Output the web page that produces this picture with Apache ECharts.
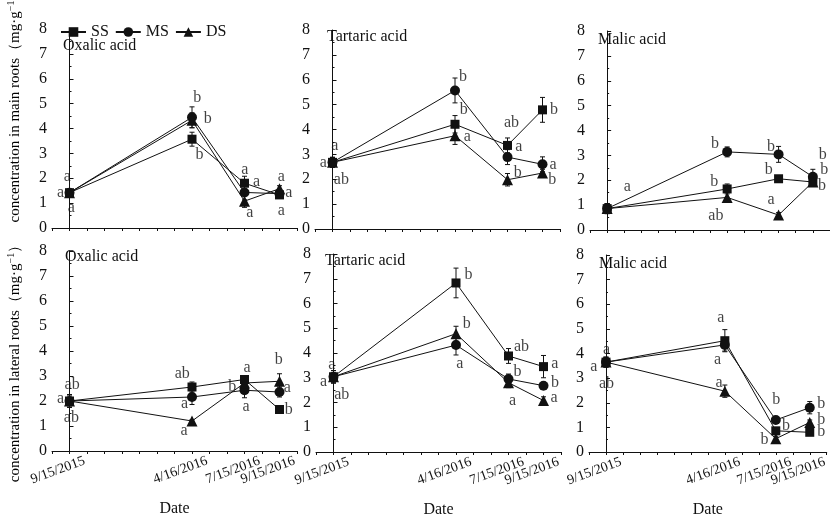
<!DOCTYPE html>
<html>
<head>
<meta charset="utf-8">
<script src="https://cdn.jsdelivr.net/npm/echarts@6/dist/echarts.min.js"></script>
<style>
html,body{margin:0;padding:0;background:#fff;}
#chart{width:830px;height:519px;}
</style>
</head>
<body>
<div id="chart"></div>
<script>
// ---------- data ----------
const dates = ['9/15/2015', '4/16/2016', '7/15/2016', '9/15/2016'];
const monthOffsets = [0, 7, 10, 12];           // months after 9/15/2015
const treatments = ['SS', 'MS', 'DS'];
const panelTitles = ['Oxalic acid', 'Tartaric acid', 'Malic acid', 'Oxalic acid', 'Tartaric acid', 'Malic acid'];
const yTitleMain = 'concentration in main roots（mg·g';
const yTitleLateral = 'concentration in lateral roots（mg·g';
const yTicks = [0, 1, 2, 3, 4, 5, 6, 7, 8];

// main roots – oxalic
const oxMainSS = [1.42, 3.57, 1.80, 1.33];
const oxMainMS = [1.42, 4.45, 1.43, 1.38];
const oxMainDS = [1.42, 4.33, 1.08, 1.58];
const oxMainSSerr = [0.10, 0.28, 0.28, 0.12];
const oxMainMSerr = [0.10, 0.42, 0.30, 0.15];
const oxMainDSerr = [0.10, 0.30, 0.25, 0.12];
// main roots – tartaric
const taMainSS = [2.68, 4.21, 3.36, 4.79];
const taMainMS = [2.68, 5.57, 2.89, 2.60];
const taMainDS = [2.68, 3.75, 1.98, 2.25];
const taMainSSerr = [0.20, 0.35, 0.30, 0.50];
const taMainMSerr = [0.20, 0.50, 0.30, 0.30];
const taMainDSerr = [0.20, 0.35, 0.25, 0.15];
// main roots – malic
const maMainSS = [0.86, 1.65, 2.06, 1.93];
const maMainMS = [0.86, 3.14, 3.04, 2.14];
const maMainDS = [0.86, 1.31, 0.60, 1.93];
const maMainSSerr = [0.20, 0.20, 0.10, 0.15];
const maMainMSerr = [0.20, 0.20, 0.32, 0.30];
const maMainDSerr = [0.20, 0.20, 0.10, 0.15];
// lateral roots – oxalic
const oxLatSS = [2.00, 2.56, 2.86, 1.66];
const oxLatMS = [2.00, 2.16, 2.43, 2.36];
const oxLatDS = [2.00, 1.20, 2.72, 2.79];
const oxLatSSerr = [0.25, 0.20, 0.15, 0.15];
const oxLatMSerr = [0.25, 0.30, 0.30, 0.20];
const oxLatDSerr = [0.25, 0.05, 0.20, 0.30];
// lateral roots – tartaric
const taLatSS = [3.04, 6.83, 3.88, 3.45];
const taLatMS = [3.04, 4.32, 2.95, 2.68];
const taLatDS = [3.04, 4.78, 2.80, 2.08];
const taLatSSerr = [0.25, 0.60, 0.30, 0.45];
const taLatMSerr = [0.25, 0.40, 0.20, 0.05];
const taLatDSerr = [0.25, 0.30, 0.20, 0.15];
// lateral roots – malic
const maLatSS = [3.65, 4.52, 0.86, 0.80];
const maLatMS = [3.65, 4.35, 1.30, 1.80];
const maLatDS = [3.65, 2.47, 0.54, 1.20];
const maLatSSerr = [0.20, 0.45, 0.10, 0.10];
const maLatMSerr = [0.20, 0.25, 0.10, 0.25];
const maLatDSerr = [0.20, 0.25, 0.10, 0.10];

// significance letters: [month, value, letter]
const lettersOxMain = [[-0.13,2.07,'a'],[-0.51,1.40,'a'],[0.11,0.80,'a'],[7.3,5.22,'b'],[7.9,4.38,'b'],[7.43,2.94,'b'],[10.02,2.34,'a'],[10.69,1.87,'a'],[10.3,0.63,'a'],[12.11,2.07,'a'],[12.53,1.40,'a'],[12.11,0.71,'a']];
const lettersTaMain = [[0.13,3.35,'a'],[-0.53,2.67,'a'],[0.51,1.98,'ab'],[7.45,6.13,'b'],[7.5,4.79,'b'],[7.7,3.69,'a'],[10.23,4.26,'ab'],[10.65,3.32,'a'],[10.59,2.27,'b'],[12.65,4.79,'b'],[12.61,2.58,'a'],[12.55,1.98,'b']];
const lettersMaMain = [[1.18,1.74,'a'],[6.29,3.45,'b'],[6.25,1.94,'b'],[6.34,0.56,'ab'],[9.56,3.35,'b'],[9.42,2.41,'b'],[9.56,1.23,'a'],[12.57,3.01,'b'],[12.67,2.41,'b'],[12.53,1.77,'b']];
const lettersOxLat = [[0.15,2.66,'ab'],[-0.51,2.10,'a'],[0.11,1.34,'ab'],[6.44,3.10,'ab'],[6.57,1.87,'a'],[6.55,0.80,'a'],[10.15,3.34,'a'],[9.3,2.57,'b'],[10.09,1.76,'a'],[11.96,3.64,'b'],[12.44,2.53,'a'],[12.53,1.63,'b']];
const lettersTaLat = [[-0.1,3.52,'a'],[-0.57,2.84,'a'],[0.47,2.31,'ab'],[7.71,7.16,'b'],[7.62,5.19,'b'],[7.22,3.57,'a'],[10.74,4.24,'ab'],[10.51,3.25,'b'],[10.23,2.07,'a'],[12.65,3.55,'a'],[12.65,2.81,'b'],[12.61,2.18,'a']];
const lettersMaLat = [[0.03,4.15,'a'],[-0.71,3.48,'a'],[0.03,2.77,'ab'],[6.76,5.45,'a'],[6.57,3.75,'a'],[6.66,2.80,'a'],[10.03,2.14,'b'],[10.6,1.07,'b'],[9.33,0.49,'b'],[12.67,1.97,'b'],[12.67,1.30,'b'],[12.67,0.83,'b']];

// ---------- build ----------
const FONT = '"Liberation Serif", "Times New Roman", serif';
const INK = '#111111';
const panels = [
  {vals:[oxMainSS,oxMainMS,oxMainDS], errs:[oxMainSSerr,oxMainMSerr,oxMainDSerr], letters:lettersOxMain},
  {vals:[taMainSS,taMainMS,taMainDS], errs:[taMainSSerr,taMainMSerr,taMainDSerr], letters:lettersTaMain},
  {vals:[maMainSS,maMainMS,maMainDS], errs:[maMainSSerr,maMainMSerr,maMainDSerr], letters:lettersMaMain},
  {vals:[oxLatSS,oxLatMS,oxLatDS], errs:[oxLatSSerr,oxLatMSerr,oxLatDSerr], letters:lettersOxLat},
  {vals:[taLatSS,taLatMS,taLatDS], errs:[taLatSSerr,taLatMSerr,taLatDSerr], letters:lettersTaLat},
  {vals:[maLatSS,maLatMS,maLatDS], errs:[maLatSSerr,maLatMSerr,maLatDSerr], letters:lettersMaLat}
];
const gridBoxes = [
  {left:52, top:29, width:245, height:199},
  {left:315, top:30, width:245, height:199},
  {left:590, top:31, width:245, height:199},
  {left:52, top:251, width:245, height:200},
  {left:316, top:254, width:245, height:199},
  {left:589, top:255, width:245, height:199}
];
const titlePos = [[63,38],[327,29],[598,32],[65,249],[325,253],[599,256]];
const symbols = ['rect', 'circle', 'triangle'];
const symbolSizes = [9, 10, 11];

const grid = [], xAxis = [], yAxis = [], lineSeries = [], otherSeries = [], title = [];
panels.forEach((p, k) => {
  const bottomRow = k >= 3;
  grid.push(Object.assign({containLabel:false}, gridBoxes[k]));
  title.push({text: panelTitles[k], left: titlePos[k][0], top: titlePos[k][1], padding: 0,
    textStyle:{fontFamily: FONT, fontSize: 16, fontWeight:'normal', color: INK}});
  xAxis.push({
    type:'value', gridIndex:k, min:-1, max:13, interval:1,
    splitLine:{show:false},
    axisLine:{lineStyle:{color:INK, width:1}},
    axisTick:{show:true, inside:false, length:3, lineStyle:{color:INK}},
    axisLabel:{
      show: bottomRow, rotate: 20, margin: 15, fontFamily: FONT, fontSize: 14, color: INK,
      hideOverlap: false, showMinLabel: true, showMaxLabel: true,
      padding: [0, -16, 0, 0],
      formatter: v => { const i = monthOffsets.indexOf(v); return i >= 0 ? dates[i] : ''; }
    },
    name: bottomRow ? 'Date' : '', nameLocation:'middle', nameGap: 50,
    nameTextStyle:{fontFamily: FONT, fontSize: 16, color: INK}
  });
  yAxis.push({
    type:'value', gridIndex:k, min:0, max:8, interval:1,
    splitLine:{show:false},
    axisLine:{show:true, lineStyle:{color:INK, width:1}},
    axisTick:{show:true, inside:true, length:4, lineStyle:{color:INK}},
    minorTick:{show:true, splitNumber:2, length:2, lineStyle:{color:INK}},
    axisLabel:{margin:5, fontFamily: FONT, fontSize: 16, color: INK,
      formatter: v => yTicks.indexOf(v) >= 0 ? String(v) : ''}
  });
  treatments.forEach((name, s) => {
    lineSeries.push({
      name, type:'line', xAxisIndex:k, yAxisIndex:k, z:3,
      data: monthOffsets.map((m, i) => [m, p.vals[s][i]]),
      symbol: symbols[s], symbolSize: symbolSizes[s], showSymbol:true,
      lineStyle:{color: INK, width: 1}, itemStyle:{color: INK},
      emphasis:{disabled:true}
    });
    otherSeries.push({
      name: name + ' error', type:'custom', xAxisIndex:k, yAxisIndex:k, z:1, silent:true,
      data: monthOffsets.map((m, i) => [m, p.vals[s][i], p.errs[s][i]]),
      encode:{x:0, y:1},
      renderItem(params, api) {
        const x = api.value(0), y = api.value(1), e = api.value(2);
        const t = api.coord([x, y + e]), b = api.coord([x, y - e]);
        const w = 2.5, st = {stroke: INK, lineWidth: 1};
        return {type:'group', children:[
          {type:'line', shape:{x1:t[0], y1:t[1], x2:b[0], y2:b[1]}, style:st},
          {type:'line', shape:{x1:t[0]-w, y1:t[1], x2:t[0]+w, y2:t[1]}, style:st},
          {type:'line', shape:{x1:b[0]-w, y1:b[1], x2:b[0]+w, y2:b[1]}, style:st}
        ]};
      }
    });
  });
  otherSeries.push({
    name: 'letters' + k, type:'scatter', xAxisIndex:k, yAxisIndex:k, z:4, silent:true,
    data: p.letters, symbolSize: 2, itemStyle:{color:'rgba(0,0,0,0)'},
    label:{show:true, position:'inside', formatter: q => q.data[2],
      fontFamily: FONT, fontSize: 16, color: INK},
    emphasis:{disabled:true}
  });
});

const ylabRich = {
  n:{fontFamily: FONT, fontSize: 15, color: INK},
  s:{fontFamily: FONT, fontSize: 10, color: INK, verticalAlign:'top', padding:[0,0,8,0]}
};
const chart = echarts.init(document.getElementById('chart'), null, {renderer:'canvas'});
chart.setOption({
  animation:false,
  backgroundColor:'#fff',
  color:[INK],
  title,
  legend:{
    data: treatments, left: 60, top: 24, itemWidth: 25, itemHeight: 12, itemGap: 6,
    textStyle:{fontFamily: FONT, fontSize: 16, color: INK}, padding: 0
  },
  grid, xAxis, yAxis,
  series: lineSeries.concat(otherSeries),
  graphic:[
    {type:'text', x:15, y:104, rotation: Math.PI/2,
     style:{text:'{n|' + yTitleMain + '}{s|−1}{n|）}', rich: ylabRich, align:'center', verticalAlign:'middle'}},
    {type:'text', x:15, y:360, rotation: Math.PI/2,
     style:{text:'{n|' + yTitleLateral + '}{s|−1}{n|）}', rich: ylabRich, align:'center', verticalAlign:'middle'}}
  ]
});
</script>
</body>
</html>
